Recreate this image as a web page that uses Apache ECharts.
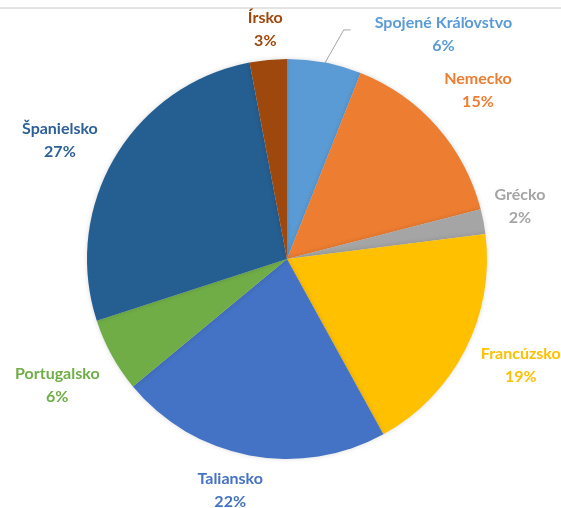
<!DOCTYPE html>
<html><head><meta charset="utf-8">
<script src="https://cdn.jsdelivr.net/npm/echarts@6/dist/echarts.min.js"></script>
<style>html,body{margin:0;padding:0;background:#fff}#c{width:561px;height:508px}</style>
</head><body><div id="c"></div>
<script>
const countries = ['Spojené Kráľovstvo','Nemecko','Grécko','Francúzsko','Taliansko','Portugalsko','Španielsko','Írsko'];
const shares = [6, 15, 2, 19, 22, 6, 27, 3];
const sliceColors = ['#5B9BD5','#ED7D31','#A5A5A5','#FFC000','#4472C4','#70AD47','#255E91','#9E480E'];
const labelColors = ['#5B9BD5','#ED7D31','#A5A5A5','#FFC000','#4472C4','#70AD47','#2E6098','#9E480E'];
const labelGap = [16, 14, 9, 11, 8, 14, 12, 6];
const labelTurn = [24, 0, -2, -2.5, 3, 0, -3, 0];

const chart = echarts.init(document.getElementById('c'), null, {renderer: 'canvas'});
chart.setOption({
  animation: false,
  backgroundColor: '#fff',
  graphic: [{type: 'line', shape: {x1: 0, y1: 8, x2: 561, y2: 8}, style: {stroke: '#C8C8C8', lineWidth: 1}}],
  series: [{
    type: 'pie',
    center: [287, 259],
    radius: 200,
    startAngle: 90,
    clockwise: true,
    avoidLabelOverlap: false,
    percentPrecision: 0,
    itemStyle: {borderWidth: 0, shadowBlur: 5, shadowColor: 'rgba(0,0,0,0.15)'},
    emphasis: {disabled: true},
    label: {
      show: true, position: 'outside', formatter: '{b}\n{d}%',
      fontFamily: 'Lato', fontWeight: 'bold', fontSize: 16, lineHeight: 23, align: 'center'
    },
    labelLine: {show: false},
    labelLayout: function (p) {
      const i = p.dataIndex;
      const data = chart.getModel().getSeriesByIndex(0).getData();
      const L = data.getItemLayout(i);
      const m0 = (L.startAngle + L.endAngle) / 2;
      const mid = m0 + labelTurn[i] * Math.PI / 180;
      const c = Math.cos(mid), s = Math.sin(mid);
      const w = p.labelRect.width, h = p.labelRect.height;
      const R = L.r + labelGap[i] + w / 2 * Math.abs(c) + h / 2 * Math.abs(s);
      const x = L.cx + R * c, y = L.cy + R * s;
      const out = {x: x, y: y, align: 'center', verticalAlign: 'middle'};
      if (i === 0) {
        const p0 = [L.cx + (L.r - 2) * Math.cos(m0), L.cy + (L.r - 2) * Math.sin(m0)];
        const xl = x - w / 2 - 24, yl = y - 4;
        out.labelLinePoints = [p0, [xl - 7, yl], [xl, yl]];
      }
      return out;
    },
    data: countries.map(function (n, i) {
      const d = {name: n, value: shares[i], itemStyle: {color: sliceColors[i]}, label: {color: labelColors[i]}};
      if (i === 0) d.labelLine = {show: true, length: 10, length2: 8, lineStyle: {color: '#A6A6A6', width: 1}};
      return d;
    })
  }]
});
</script></body></html>
